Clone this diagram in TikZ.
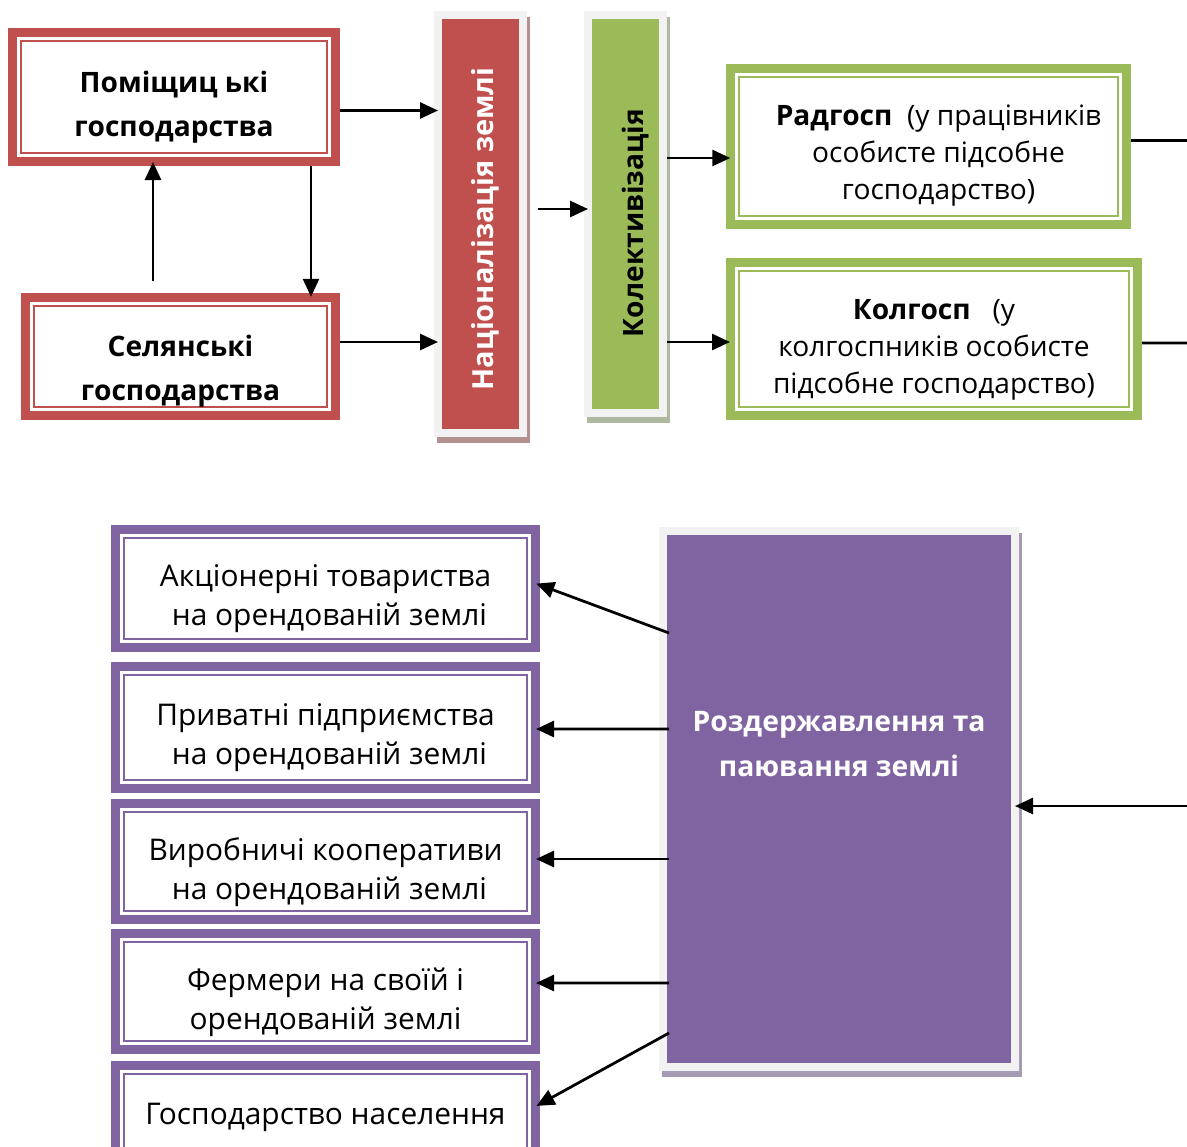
\documentclass[tikz,border=0pt]{standalone}
\usepackage{fontspec}
\setmainfont{Open Sans}
\usetikzlibrary{arrows.meta}

\definecolor{redacc}{HTML}{C0504D}
\definecolor{greenacc}{HTML}{9BBB59}
\definecolor{purpacc}{HTML}{8064A2}
\definecolor{framegrey}{HTML}{F2F2F2}
\definecolor{redshade}{RGB}{180,145,145}
\definecolor{greenshade}{RGB}{175,185,160}
\definecolor{purpshade}{RGB}{165,155,180}

% Text im Kasten, oben/unten aufgefuellt
\newcommand{\boxtext}[3]{\raisebox{0pt}[\dimexpr\height+#1\relax][\dimexpr\depth+#2\relax]{\begin{tabular}{@{}c@{}}#3\end{tabular}}}

\begin{document}
\begin{tikzpicture}[
	arr/.style={-{Triangle[length=0.36cm, width=0.32cm]}, line width=0.055cm,
		shorten >=-0.08cm},
	ln/.style={line width=0.055cm},
	dbox/.style={draw=#1, line width=0.18cm, fill=white, inner sep=0pt,
		path picture={\draw[#1, line width=0.04cm]
			([shift={(0.17cm,-0.17cm)}]path picture bounding box.north west) rectangle
			([shift={(-0.17cm,0.17cm)}]path picture bounding box.south east);}},
	bar/.style 2 args={fill=#1, draw=framegrey, line width=0.16cm, inner sep=0pt,
		preaction={draw=#2, fill=#2, line width=0.16cm,
			transform canvas={xshift=0.06cm, yshift=-0.12cm}}},
	boldtxt/.style={font=\fontsize{16}{25.5}\selectfont\bfseries},
	smalltxt/.style={font=\fontsize{16}{21}\selectfont},
	plaintxt/.style={font=\fontsize{17}{22.7}\selectfont},
]
	\useasboundingbox (0,0) rectangle (23.74,-22.92);
	\clip (0,0) rectangle (23.74,-22.92);

	% Ausgangslage
	\node[dbox=redacc, boldtxt, minimum width=6.46cm, minimum height=2.58cm] (pom)
		at (3.48,-1.94) {\boxtext{0.34cm}{0pt}{Поміщиц ькі\\господарства}};
	\node[dbox=redacc, boldtxt, minimum width=6.2cm, minimum height=2.37cm] (sel)
		at (3.61,-7.13) {\boxtext{0.52cm}{0pt}{Селянські\\господарства}};

	% Balken
	\node[bar={redacc}{redshade}, text=white, font=\fontsize{16.5}{25}\selectfont\bfseries,
		minimum width=1.7cm, minimum height=8.36cm] (nat) at (9.61,-4.48)
		{\hspace*{0.2cm}\rotatebox{90}{Націоналізація землі\hspace*{0.2cm}}};
	\node[bar={greenacc}{greenshade}, boldtxt, minimum width=1.5cm,
		minimum height=7.96cm] (kolek) at (12.51,-4.28)
		{\hspace*{0.4cm}\rotatebox{90}{Колективізація\hspace*{0.36cm}}};

	% Radgosp und Kolgosp
	\node[dbox=greenacc, smalltxt, minimum width=7.91cm, minimum height=3.12cm] (rad)
		at (18.57,-2.93)
		{\hspace*{0.4cm}\boxtext{0.34cm}{0pt}{\textbf{Радгосп}~~(у працівників\\особисте підсобне\\господарство)}};
	\node[dbox=greenacc, smalltxt, minimum width=8.14cm, minimum height=3.06cm] (kol)
		at (18.68,-6.78)
		{\boxtext{0.42cm}{0pt}{\textbf{Колгосп}~~~(у\\колгоспників особисте\\підсобне господарство)}};

	% Roszerzhavlennja
	\node[bar={purpacc}{purpshade}, text=white, font=\fontsize{16.1}{26}\selectfont\bfseries,
		minimum width=7.04cm, minimum height=10.72cm] (roz) at (16.78,-15.98)
		{\boxtext{0pt}{2.16cm}{Роздержавлення та\\паювання землі}};

	% Formen heute
	\node[dbox=purpacc, plaintxt, minimum width=8.4cm, minimum height=2.36cm] (akc)
		at (6.51,-11.77) {\boxtext{0.38cm}{0pt}{Акціонерні товариства\\~на орендованій землі}};
	\node[dbox=purpacc, plaintxt, minimum width=8.4cm, minimum height=2.44cm] (pry)
		at (6.51,-14.55) {\boxtext{0.38cm}{0pt}{Приватні підприємства\\~на орендованій землі}};
	\node[dbox=purpacc, plaintxt, minimum width=8.4cm, minimum height=2.32cm] (vyr)
		at (6.51,-17.23) {\boxtext{0.42cm}{0pt}{Виробничі кооперативи\\~на орендованій землі}};
	\node[dbox=purpacc, plaintxt, minimum width=8.4cm, minimum height=2.32cm] (fer)
		at (6.51,-19.83) {\boxtext{0.42cm}{0pt}{Фермери на своїй і\\орендованій землі}};
	\node[dbox=purpacc, plaintxt, minimum width=8.4cm, minimum height=2.32cm] (hos)
		at (6.51,-22.47) {\boxtext{0pt}{0.3cm}{Господарство населення}};

	% Hilfspunkte
	\coordinate (radout) at (23.74,-2.81);
	\coordinate (kolout) at (23.74,-6.86);
	\coordinate (rozin) at (23.74,-16.12);
	\coordinate (p1) at ([yshift=-0.27cm]pom.east);
	\coordinate (p2) at ([yshift=0.29cm]sel.east);
	\coordinate (p3) at ([xshift=-0.55cm]sel.north);
	\coordinate (p4) at ([xshift=2.74cm]pom.south);
	\coordinate (p5) at ([yshift=0.3cm]nat.east);
	\coordinate (p6) at ([yshift=-0.23cm]rad.west);
	\coordinate (p7) at ([yshift=-0.06cm]kol.west);

	% Pfeile oben
	\draw[arr] (p1) -- (p1 -| nat.west);
	\draw[arr] (p2) -- (p2 -| nat.west);
	\draw[arr, shorten <=0.24cm] (p3) -- (p3 |- pom.south);
	\draw[arr] (p4) -- (p4 |- sel.north);
	\draw[arr, shorten <=0.22cm] (p5) -- (p5 -| kolek.west);
	\draw[arr] (p6 -| kolek.east) -- (p6);
	\draw[arr] (p7 -| kolek.east) -- (p7);
	\draw[ln] ([yshift=0.12cm]rad.east) -- (radout);
	\draw[ln] ([yshift=-0.08cm]kol.east) -- (kolout);
	\draw[arr] (rozin) -- (rozin -| roz.east);

	% Pfeile unten
	\draw[arr] ([xshift=0.2cm, yshift=3.32cm]roz.west) -- ([yshift=0.07cm]akc.east);
	\draw[arr] ([xshift=0.2cm, yshift=1.4cm]roz.west) -- ([yshift=-0.03cm]pry.east);
	\draw[arr] ([xshift=0.2cm, yshift=-1.2cm]roz.west) -- ([yshift=0.05cm]vyr.east);
	\draw[arr] ([xshift=0.2cm, yshift=-3.68cm]roz.west) -- ([yshift=0.17cm]fer.east);
	\draw[arr] ([xshift=0.2cm, yshift=-4.68cm]roz.west) -- ([yshift=0.39cm]hos.east);
\end{tikzpicture}
\end{document}
